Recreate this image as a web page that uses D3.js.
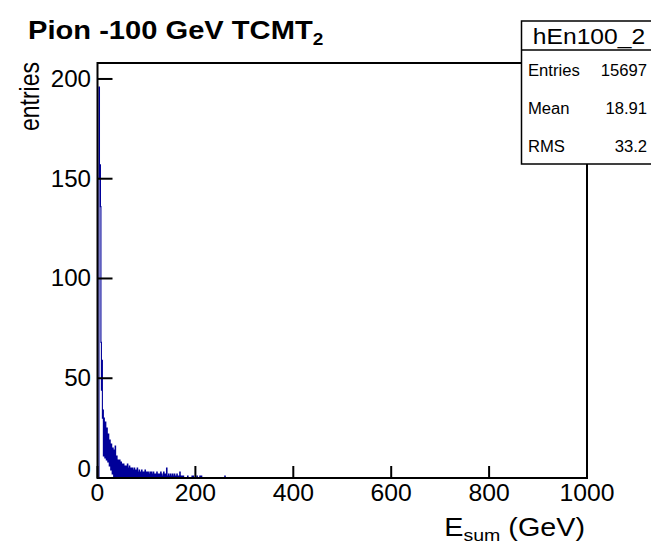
<!DOCTYPE html>
<html><head><meta charset="utf-8">
<script src="https://cdn.jsdelivr.net/npm/d3@7"></script>
<style>html,body{margin:0;padding:0;background:#fff;}svg{display:block;}text{font-family:"Liberation Sans",Arial,Helvetica,sans-serif;}</style>
</head><body><div id="chart"></div>
<script>
// ---- data (1 GeV bins, 0..1000 GeV) ----
const binWidth = 1;
const xRange = [0, 1000];
// counts of the first bins, index = GeV
const lowBins = [0,0,0,196,150,157,136,68,44,59,30,34,11,30,27,10,28,23,9,25,21,8,22,18,6,19,16,4,17,14,
2,15,13,0,14,0,16,10,0,11,9,0,9,8,0,9,6,0,8,0,7,5,0,7,0,6,5,0,6,0,
5,7,0,5,0,6,4,0,5,0,4,5,0,4,0,5,3,0,4,0,3,5,0,3,0,4,2,0,3,0,
4,2,0,3,0,3,0,4,2,0,3,0,2,3,0,2,0,3,0,2,3,0,2,0,3,1,0,2,0,2,
0,3,1,0,2,0,2,0,1,3,0,2,0,1,0,3,1,0,2,0,1,5,0,1,0,2,0,1,0,2,
0,1,0,2,0,1,0,2,0,1,0,0,2,0,1,0,0,1,3,0,1,0,1,0,0,1];
// isolated entries further out: [GeV, count]
const tailBins = [[184,1],[193,1],[195,1],[203,1],[209,1],[212,1],[260,1]];
const xTicks = [0,200,400,600,800,1000];
const yTicks = [0,50,100,150,200];
const title = "Pion -100 GeV TCMT";
const titleSub = "2";
const statsName = "hEn100_2";
const statsLabels = ["Entries","Mean","RMS"];
const statsValues = ["15697","18.91","33.2"];

// build full histogram
const nBins = (xRange[1]-xRange[0])/binWidth;
const counts = new Array(nBins).fill(0);
lowBins.forEach((v,i)=>{counts[i]=v;});
tailBins.forEach(([g,c])=>{counts[Math.floor(g/binWidth)]=c;});

const W = 651, H = 546;
const svg = d3.select("#chart").append("svg").attr("width",W).attr("height",H);

const fx = {l:97.5, r:587, t:63, b:478};
const x = d3.scaleLinear().domain(xRange).range([fx.l, fx.r]);
const y = d3.scaleLinear().domain([0, 208]).range([fx.b, fx.t]);

// histogram outline
const pts = [[xRange[0],0]];
counts.forEach((v,i)=>{ pts.push([i*binWidth, v]); pts.push([(i+1)*binWidth, v]); });
pts.push([xRange[1],0]);
const line = d3.line().x(d=>x(d[0])).y(d=>y(d[1]));
svg.append("path").attr("d", line(pts)).attr("fill","none").attr("stroke","#000099").attr("stroke-width",1.1);

// frame
svg.append("rect").attr("x",fx.l).attr("y",fx.t).attr("width",fx.r-fx.l).attr("height",fx.b-fx.t)
  .attr("fill","none").attr("stroke","#000").attr("stroke-width",2);

function txt(px, py, str, size, anchor, sx, weight){
  const g = svg.append("g").attr("transform",`translate(${px},${py}) scale(${sx},1)`);
  return g.append("text").attr("x",0).attr("y",0).attr("text-anchor",anchor)
    .attr("font-size",size).attr("font-weight",weight||"normal").attr("fill","#000").text(str);
}

// y axis ticks + labels
yTicks.forEach(t=>{
  svg.append("line").attr("x1",fx.l).attr("x2",fx.l+15).attr("y1",y(t)).attr("y2",y(t)).attr("stroke","#000").attr("stroke-width",2);
  const dy = t===0 ? -1 : 8;
  txt(91, y(t)+dy, String(t), 23, "end", 1.05);
});
// x axis ticks + labels
xTicks.forEach(t=>{
  svg.append("line").attr("x1",x(t)).attr("x2",x(t)).attr("y1",fx.b).attr("y2",fx.b-12).attr("stroke","#000").attr("stroke-width",2);
  txt(x(t), 501, String(t), 24, "middle", 1.03);
});

// axis titles
const xt = txt(585, 536, "", 25, "end", 1.15);
xt.append("tspan").text("E");
xt.append("tspan").attr("font-size",17).attr("dy",5).text("sum");
xt.append("tspan").attr("dy",-5).text(" (GeV)");

svg.append("text").attr("transform","translate(39,62) rotate(-90) scale(1,1.18)")
  .attr("text-anchor","end").attr("font-size",23).text("entries");

// title
const tt = txt(28, 39, "", 26, "start", 1.12, "bold");
tt.append("tspan").text(title);
tt.append("tspan").attr("font-size",17).attr("dy",6).text(titleSub);

// stats box
const sb = {l:521.5, r:653, t:21, h1:50, b:164};
svg.append("rect").attr("x",sb.l).attr("y",sb.t).attr("width",sb.r-sb.l).attr("height",sb.b-sb.t)
  .attr("fill","#fff").attr("stroke","#000").attr("stroke-width",1.5);
svg.append("line").attr("x1",sb.l).attr("x2",sb.r).attr("y1",sb.h1).attr("y2",sb.h1).attr("stroke","#000").attr("stroke-width",1.5);
txt(589, 44, statsName, 22, "middle", 1.12);
const rowY = [76, 114, 152];
statsLabels.forEach((s,i)=>{
  txt(528, rowY[i], s, 16, "start", 1.04);
  txt(647, rowY[i], statsValues[i], 16, "end", 1.04);
});
</script></body></html>
